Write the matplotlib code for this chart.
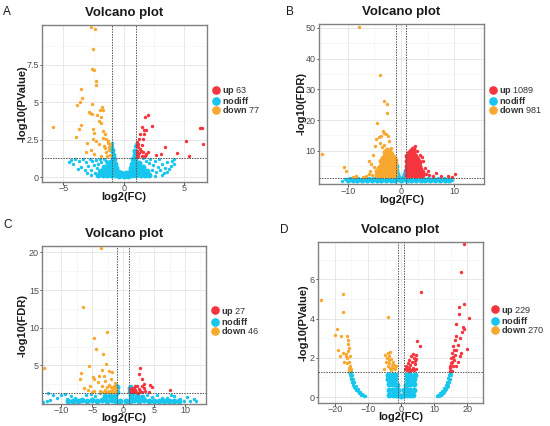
import matplotlib
matplotlib.use('Agg')
import matplotlib.pyplot as plt
from matplotlib.lines import Line2D

plt.rcParams['font.family'] = ['Liberation Sans', 'DejaVu Sans']
plt.rcParams['mathtext.fontset'] = 'custom'
plt.rcParams['mathtext.rm'] = 'Liberation Sans'
plt.rcParams['mathtext.bf'] = 'Liberation Sans:bold'

RED = '#F5343E'
BLUE = '#16C6EE'
ORANGE = '#F8A82E'

# ---------------- panel A ----------------
a_up = [(1.79, 4.05), (2.04, 4.16), (2.33, 3.44), (1.48, 3.33), (1.68, 3.15), (1.85, 3.15),
        (1.34, 2.89), (1.68, 2.89), (1.30, 2.55), (1.62, 2.55), (1.06, 2.33), (1.20, 2.22),
        (1.48, 2.17), (1.06, 2.05), (1.20, 1.99), (1.34, 1.88), (1.12, 1.77), (1.43, 1.72),
        (1.29, 1.59), (1.06, 1.55), (1.62, 1.66), (1.85, 1.54), (2.04, 1.66), (1.20, 1.42),
        (1.50, 1.38), (2.66, 1.48), (3.11, 1.52), (3.39, 2.03), (4.43, 1.59), (5.13, 2.44),
        (5.41, 1.43), (6.27, 3.31), (6.45, 3.31), (6.55, 2.21), (1.10, 1.35), (1.75, 1.40)]
a_down = [(-2.72, 10.05), (-2.38, 9.87), (-2.52, 8.55), (-2.66, 7.25), (-2.46, 7.14),
          (-2.27, 6.42), (-2.30, 6.17), (-3.50, 5.86), (-3.42, 5.30), (-3.84, 4.79),
          (-3.64, 5.01), (-2.63, 4.90), (-1.82, 4.68), (-1.74, 4.50), (-2.91, 4.34),
          (-2.80, 4.27), (-2.66, 4.23), (-2.24, 4.18), (-1.93, 4.50), (-1.88, 4.00),
          (-2.02, 3.78), (-1.85, 3.60), (-3.50, 3.45), (-5.85, 3.36), (-3.70, 3.22),
          (-2.58, 3.22), (-2.49, 2.95), (-1.74, 3.06), (-1.57, 2.89), (-3.98, 2.66),
          (-2.58, 2.55), (-2.30, 2.44), (-1.74, 2.62), (-1.46, 2.55), (-1.26, 2.44),
          (-3.00, 2.26), (-2.07, 2.21), (-1.60, 2.10), (-1.32, 2.26), (-1.18, 1.99),
          (-3.14, 1.66), (-2.72, 1.81), (-1.46, 1.66), (-1.23, 1.81), (-1.12, 1.50),
          (-1.88, 1.43), (-1.37, 1.43), (-1.51, 1.95), (-1.12, 2.21), (-2.44, 1.54)]
a_nodiff = [(-1.05, 0.3), (-1.08, 0.7), (-1.1, 1.1), (-1.35, 0.3), (-1.45, 1.05), (-1.65, 1.2),
            (-1.85, 1.0), (-2.0, 1.2), (-2.05, 0.4), (-2.15, 0.9), (-2.25, 0.6), (-2.3, 1.15),
            (-2.4, 0.25), (-2.5, 0.8), (-2.6, 1.05), (-2.7, 0.5), (-2.8, 1.2), (-2.95, 0.75),
            (-3.1, 1.0), (-3.2, 0.45), (-3.35, 1.2), (-3.5, 0.7), (-3.7, 1.05), (-3.8, 0.55),
            (-4.0, 1.2), (-4.2, 0.9), (-4.4, 1.15), (-4.5, 1.0), (-3.0, 0.3), (-2.7, 0.15),
            (-0.97, 2.1), (-0.99, 2.25), (0.97, 2.05), (0.99, 2.2), (-0.85, 1.75), (0.85, 1.8),
            (1.6, 1.25), (1.85, 1.1), (2.1, 0.95), (2.2, 1.2), (2.3, 0.45), (2.4, 0.8),
            (2.55, 1.05), (2.65, 0.35), (2.8, 0.7), (2.9, 1.2), (3.0, 0.5), (3.15, 0.9),
            (3.3, 0.3), (3.4, 0.6), (3.55, 1.0), (3.6, 0.35), (3.75, 0.55), (3.9, 0.75),
            (4.0, 1.1), (4.15, 0.9), (4.2, 1.2), (2.6, 0.1), (3.2, 0.15)]
a_nodiff_core = [(-2.1, 0.12), (-1.75, 0.12), (-1.4, 0.12), (-1.05, 0.12), (-0.7, 0.12),
                 (-0.35, 0.1), (0.0, 0.08), (0.35, 0.1), (0.7, 0.12), (1.05, 0.12), (1.4, 0.12),
                 (1.75, 0.12), (2.1, 0.12), (-1.9, 0.4), (-1.55, 0.4), (-1.2, 0.42), (-0.85, 0.4),
                 (-0.5, 0.36), (-0.2, 0.28), (0.2, 0.28), (0.5, 0.36), (0.85, 0.4), (1.2, 0.42),
                 (1.55, 0.4), (1.9, 0.4), (-1.6, 0.68), (-1.25, 0.7), (-0.9, 0.68), (-0.62, 0.62),
                 (0.62, 0.62), (0.9, 0.68), (1.25, 0.7), (1.6, 0.68), (-1.3, 0.96), (-0.95, 0.96),
                 (-0.72, 0.9), (0.72, 0.9), (0.95, 0.96), (1.3, 0.96), (-0.9, 1.22), (-0.78, 1.2),
                 (0.78, 1.2), (0.9, 1.22), (-0.92, 1.5), (0.9, 1.5), (-0.95, 1.78), (0.94, 1.72)]

# ---------------- panel B ----------------
b_up = [(2.7, 11.6), (2.2, 10.8), (3.1, 9.8), (3.6, 8.5), (4.1, 6.8), (4.5, 4.5), (4.7, 2.5),
        (6.6, 2.7), (8.8, 1.9), (10.1, 2.3), (5.3, 2.2), (6.0, 1.9), (5.0, 3.3), (1.6, 10.0),
        (3.9, 8.0), (7.5, 1.7), (9.5, 1.6)]
b_up_core = [(1.2, 2.0), (1.2, 3.6), (1.2, 5.2), (1.2, 6.8), (1.2, 8.2), (1.9, 2.0), (1.9, 3.6),
             (1.9, 5.2), (1.9, 6.8), (1.9, 8.4), (1.9, 9.8), (2.6, 2.0), (2.6, 3.6), (2.6, 5.2),
             (2.6, 6.8), (2.6, 8.4), (3.3, 2.0), (3.3, 3.6), (3.3, 5.0), (3.3, 6.2), (4.0, 2.0),
             (4.0, 3.2), (1.55, 2.8), (1.55, 4.4), (1.55, 6.0), (1.55, 7.6), (1.55, 9.2),
             (2.25, 2.8), (2.25, 4.4), (2.25, 6.0), (2.25, 7.6), (2.25, 9.2), (2.3, 10.6),
             (2.95, 2.8), (2.95, 4.4), (2.95, 6.0), (2.95, 7.4), (3.65, 2.6), (3.65, 4.0)]
b_down = [(-7.86, 50.4), (-3.90, 34.7), (-3.14, 26.1), (-2.70, 25.4), (-2.64, 22.4),
          (-4.53, 19.1), (-3.46, 16.5), (-3.14, 15.9), (-2.83, 15.4), (-2.52, 14.8),
          (-4.21, 14.5), (-4.72, 13.8), (-3.77, 14.8), (-2.20, 13.2), (-4.84, 11.6),
          (-3.58, 11.1), (-14.8, 8.9), (-6.10, 6.8), (-10.7, 4.6), (-10.25, 3.5), (-5.66, 5.7),
          (-5.03, 4.6), (-8.5, 1.9), (-5.97, 2.5), (-6.5, 1.8), (-5.5, 2.0), (-4.0, 12.5),
          (-3.2, 12.0), (-1.8, 11.0), (-5.2, 8.5), (-5.8, 3.3), (-7.2, 1.6), (-9.0, 1.5)]
b_down_core = [(-4.6, 2.0), (-4.6, 3.4), (-3.8, 2.0), (-3.8, 3.6), (-3.8, 5.2), (-3.8, 6.6),
               (-3.0, 2.0), (-3.0, 3.6), (-3.0, 5.2), (-3.0, 6.8), (-3.0, 8.4), (-3.0, 9.6),
               (-2.2, 2.0), (-2.2, 3.6), (-2.2, 5.2), (-2.2, 6.8), (-2.2, 8.4), (-2.2, 9.8),
               (-1.5, 2.0), (-1.5, 3.6), (-1.5, 5.2), (-1.5, 6.8), (-1.5, 8.0), (-4.2, 2.8),
               (-4.2, 4.4), (-3.4, 2.8), (-3.4, 4.4), (-3.4, 6.0), (-3.4, 7.6), (-2.6, 2.8),
               (-2.6, 4.4), (-2.6, 6.0), (-2.6, 7.6), (-2.6, 9.2), (-2.6, 10.4), (-1.85, 2.8),
               (-1.85, 4.4), (-1.85, 6.0), (-1.85, 7.6), (-1.85, 9.0), (-1.15, 2.6),
               (-1.15, 4.2), (-1.15, 5.8), (-1.15, 7.0)]
b_nodiff = [(-11.0, 0.3), (-10.6, 0.8), (-9.6, 1.1), (-8.8, 0.9), (-8.0, 1.2), (-7.0, 1.0),
            (-6.0, 1.2), (-5.0, 1.1), (-4.0, 1.2), (-0.95, 5.7), (0.9, 4.3), (5.0, 1.1),
            (6.0, 1.2), (7.0, 1.0), (8.0, 1.1), (9.0, 0.9), (9.6, 0.5)]
b_nodiff_core = [(-10.0, 0.4), (-9.1, 0.4), (-8.2, 0.4), (-7.3, 0.4), (-6.4, 0.4), (-5.5, 0.4),
                 (-4.6, 0.4), (-3.7, 0.4), (-2.8, 0.4), (-1.9, 0.4), (-1.2, 0.4), (1.2, 0.4),
                 (1.9, 0.4), (2.8, 0.4), (3.7, 0.4), (4.6, 0.4), (5.5, 0.4), (6.4, 0.4),
                 (7.3, 0.4), (8.2, 0.4), (9.1, 0.4), (-0.95, 5.0), (-0.9, 3.8), (-0.8, 2.6),
                 (-0.55, 1.5), (0.55, 1.5), (0.8, 2.4), (0.9, 3.4), (0.0, 0.4), (-0.45, 0.7),
                 (0.45, 0.7)]

# ---------------- panel C ----------------
c_up = [(2.76, 4.65), (2.49, 3.85), (3.03, 3.19), (3.30, 2.52), (3.03, 2.30), (4.38, 2.39),
        (4.65, 2.17), (2.22, 2.30), (1.78, 1.99), (1.57, 1.73), (1.95, 1.73), (2.49, 1.86),
        (3.30, 1.99), (7.51, 1.77), (1.24, 1.64), (2.76, 1.64), (1.35, 2.05), (1.10, 1.45),
        (3.60, 1.55), (1.60, 1.40), (2.10, 1.50), (4.10, 1.45), (2.40, 1.38), (1.15, 1.85),
        (3.00, 1.42), (1.90, 2.20), (1.45, 1.55)]
c_down = [(-3.62, 20.6), (-6.49, 12.79), (-2.70, 9.42), (-4.81, 8.63), (-4.43, 7.21),
          (-3.30, 6.46), (-12.8, 4.65), (-5.62, 4.87), (-2.81, 5.18), (-3.46, 4.38),
          (-2.38, 4.20), (-1.84, 4.16), (-6.81, 4.03), (-4.86, 3.50), (-4.0, 3.63),
          (-3.19, 3.63), (-6.97, 3.19), (-4.81, 3.19), (-4.11, 2.83), (-2.92, 2.96),
          (-2.0, 3.23), (-5.35, 2.30), (-6.32, 1.95), (-5.78, 1.77), (-3.46, 2.30),
          (-2.65, 2.17), (-2.27, 2.39), (-1.95, 2.08), (-1.57, 2.30), (-2.92, 1.77),
          (-2.38, 1.64), (-1.84, 1.77), (-1.46, 1.95), (-4.81, 1.64), (-3.19, 1.50),
          (-3.84, 1.64), (-1.24, 1.64), (-1.30, 1.40), (-2.10, 1.45), (-1.70, 1.50),
          (-2.60, 1.40), (-1.15, 2.00), (-3.60, 1.40), (-1.40, 2.60), (-5.10, 1.45),
          (-1.20, 1.80)]
c_nodiff = [(-12.4, 0.3), (-12.2, 1.3), (-11.8, 0.4), (-11.3, 1.0), (-10.8, 0.7), (-10.1, 1.0),
            (-9.4, 1.2), (-9.1, 0.5), (-8.5, 0.9), (-7.8, 0.6), (-6.0, 1.0), (-5.2, 1.2),
            (-4.6, 0.9), (-3.8, 1.3), (-2.0, 1.3), (-1.5, 2.0), (-1.2, 2.4), (1.3, 2.2),
            (1.6, 1.2), (2.4, 1.3), (3.8, 1.0), (4.6, 0.8), (5.4, 1.1), (6.2, 0.6),
            (7.1, 0.66), (7.8, 1.0), (8.2, 0.97), (8.8, 0.3), (9.2, 0.5), (9.8, 0.2),
            (10.3, 0.75), (10.8, 0.3), (11.4, 0.5), (11.7, 0.2), (-13.0, 0.1)]
c_nodiff_core = [(-9.0, 0.3), (-8.2, 0.25), (-7.4, 0.3), (-6.6, 0.35), (-5.8, 0.3),
                 (-5.0, 0.35), (-4.2, 0.3), (-3.4, 0.35), (-2.6, 0.3), (-1.8, 0.35),
                 (-1.1, 0.3), (1.1, 0.3), (1.8, 0.35), (2.6, 0.3), (3.4, 0.35), (4.2, 0.3),
                 (5.0, 0.25), (5.8, 0.3), (6.6, 0.25), (7.4, 0.2), (8.2, 0.25), (9.0, 0.2),
                 (-3.0, 0.9), (-2.2, 0.95), (-1.3, 0.9), (1.3, 0.9), (2.2, 0.95), (3.0, 0.85),
                 (-1.0, 1.5), (-0.95, 2.1), (1.05, 1.5), (1.1, 2.0), (-0.5, 0.3), (0.5, 0.3)]

# ---------------- panel D ----------------
d_up = [(19.0, 7.79), (18.0, 6.38), (19.0, 4.72), (17.5, 4.58), (17.4, 4.21), (20.4, 4.03),
        (16.7, 3.73), (18.7, 3.57), (19.0, 3.47), (18.4, 3.30), (16.7, 3.09), (17.7, 3.01),
        (16.2, 2.92), (17.2, 2.67), (19.9, 2.46), (15.7, 2.58), (15.9, 2.41), (16.5, 2.41),
        (15.5, 2.24), (16.2, 2.15), (18.2, 2.24), (17.7, 2.07), (15.2, 1.98), (15.9, 1.90),
        (17.2, 1.81), (15.0, 1.73), (15.7, 1.59), (14.8, 1.47), (16.5, 1.56), (14.6, 1.35),
        (15.4, 1.33), (15.3, 1.80), (15.6, 2.05), (14.9, 1.60),
        (6.06, 5.35), (4.75, 2.87), (5.76, 2.58), (3.54, 2.21), (4.34, 2.15), (3.03, 2.07),
        (3.84, 1.98), (4.55, 1.93), (2.32, 1.90), (3.33, 1.81), (2.02, 1.73), (2.73, 1.64),
        (4.04, 1.69), (1.52, 1.56), (2.32, 1.47), (3.54, 1.47), (4.55, 1.42), (1.72, 1.38),
        (3.03, 1.38), (1.31, 1.42), (4.04, 1.86), (2.60, 1.35), (3.90, 1.40), (1.90, 1.55)]
d_down = [(-24.3, 4.97), (-17.7, 5.26), (-17.7, 4.32), (-19.5, 3.47), (-19.9, 3.18),
          (-18.2, 3.13), (-19.2, 2.41), (-16.2, 3.09), (-16.0, 2.92), (-15.9, 2.72),
          (-15.7, 2.50), (-16.5, 2.21), (-16.7, 2.07), (-17.7, 2.24), (-18.5, 2.10),
          (-16.2, 1.98), (-15.7, 1.81), (-15.4, 1.59), (-16.2, 1.73), (-17.2, 1.81),
          (-15.2, 1.42), (-15.8, 1.47), (-16.0, 2.35), (-15.5, 2.10), (-15.6, 1.35),
          (-4.04, 4.07), (-3.33, 2.32), (-4.04, 2.24), (-4.75, 2.15), (-4.34, 1.98),
          (-3.54, 2.07), (-3.03, 1.95), (-2.53, 1.81), (-4.55, 1.81), (-3.74, 1.73),
          (-2.73, 1.64), (-2.02, 1.64), (-4.04, 1.56), (-3.33, 1.50), (-2.32, 1.47),
          (-1.72, 1.42), (-3.03, 1.38), (-5.05, 1.42), (-1.52, 1.56), (-3.74, 1.90)]
d_nodiff = [(-15.66, 1.30), (-15.45, 1.13), (-15.15, 0.96), (-14.85, 0.79), (-14.44, 0.62),
            (-13.84, 0.44), (-13.13, 0.31), (-12.32, 0.19), (-11.41, 0.09), (-10.8, 0.03),
            (-15.1, 1.28), (-14.9, 1.10), (-14.6, 0.93), (-14.2, 0.76), (-13.7, 0.58),
            (-13.1, 0.42), (-12.5, 0.28), (-11.8, 0.15), (-11.1, 0.05), (-15.35, 1.20),
            (-15.0, 0.90), (-14.6, 0.70), (-14.1, 0.52), (-13.5, 0.38), (-12.8, 0.22),
            (-12.0, 0.10),
            (14.65, 1.30), (14.44, 1.13), (14.14, 0.96), (13.84, 0.79), (13.43, 0.62),
            (12.93, 0.44), (12.32, 0.31), (11.62, 0.19), (11.11, 0.09), (10.7, 0.03),
            (15.2, 1.28), (15.0, 1.10), (14.7, 0.93), (14.4, 0.76), (14.0, 0.58), (13.5, 0.42),
            (12.9, 0.28), (12.2, 0.15), (11.5, 0.06), (14.9, 1.20), (14.5, 0.90), (14.1, 0.70),
            (13.7, 0.52), (13.2, 0.38), (12.6, 0.22), (11.9, 0.10)]
d_nodiff_core = [(-3.6, 0.12), (-2.6, 0.1), (-1.7, 0.1), (1.7, 0.1), (2.6, 0.1), (3.6, 0.12),
                 (-3.7, 0.38), (-2.6, 0.38), (-1.7, 0.38), (1.7, 0.38), (2.6, 0.38), (3.8, 0.38),
                 (-3.8, 0.64), (-2.7, 0.64), (-1.8, 0.64), (1.8, 0.64), (2.7, 0.64), (3.9, 0.64),
                 (-3.9, 0.9), (-2.8, 0.9), (-1.8, 0.9), (1.8, 0.9), (2.8, 0.9), (4.0, 0.9),
                 (-3.9, 1.14), (-2.8, 1.14), (-1.8, 1.14), (1.8, 1.14), (2.8, 1.14), (4.1, 1.14),
                 (-0.9, 0.1), (0.0, 0.05), (0.9, 0.1), (-1.0, 0.35), (1.0, 0.35), (-1.35, 0.6),
                 (1.35, 0.6)]

panels = [
    dict(letter='A', rect=[0.0755, 0.5735, 0.300, 0.3678], ylabel='-log10(PValue)',
         xlim=(-6.8, 6.85), ylim=(-0.31, 10.17), xticks=[-5, 0, 5], yticks=[0, 2.5, 5, 7.5],
         ytl=['0', '2.5', '5', '7.5'], xminor=[-2.5, 2.5], yminor=[1.25, 3.75, 6.25, 8.75],
         up=a_up, up_core=[], down=a_down, down_core=[], nd=a_nodiff, nd_core=a_nodiff_core,
         counts=(63, 77), leg=(0.3864, 0.7650), letter_xy=(3, 15),
         xl=-0.068, yl=-0.085),
    dict(letter='B', rect=[0.5791, 0.5681, 0.3009, 0.3756], ylabel='-log10(FDR)',
         xlim=(-15.5, 15.6), ylim=(-0.8, 51.3), xticks=[-10, 0, 10], yticks=[10, 20, 30, 40, 50],
         ytl=None, xminor=[-15, -5, 5, 15], yminor=[5, 15, 25, 35, 45],
         up=b_up, up_core=b_up_core, down=b_down, down_core=b_down_core, nd=b_nodiff,
         nd_core=b_nodiff_core, counts=(1089, 981), leg=(0.8905, 0.7650), letter_xy=(286, 15),
         xl=-0.069, yl=-0.073),
    dict(letter='C', rect=[0.0758, 0.0523, 0.2982, 0.3693], ylabel='-log10(FDR)',
         xlim=(-13.2, 13.35), ylim=(-0.1, 20.8), xticks=[-10, -5, 0, 5, 10], yticks=[5, 10, 15, 20],
         ytl=None, xminor=[-12.5, -7.5, -2.5, 2.5, 7.5, 12.5], yminor=[2.5, 7.5, 12.5, 17.5],
         up=c_up, up_core=[], down=c_down, down_core=[], nd=c_nodiff, nd_core=c_nodiff_core,
         counts=(27, 46), leg=(0.3850, 0.2465), letter_xy=(3, 228),
         xl=-0.0575, yl=-0.087),
    dict(letter='D', rect=[0.5776, 0.0547, 0.3005, 0.3779], ylabel='-log10(PValue)',
         xlim=(-25.2, 24.7), ylim=(-0.29, 7.92), xticks=[-20, -10, 0, 10, 20], yticks=[0, 2, 4, 6],
         ytl=None, xminor=[-25, -15, -5, 5, 15], yminor=[1, 3, 5, 7],
         up=d_up, up_core=[], down=d_down, down_core=[], nd=d_nodiff, nd_core=d_nodiff_core,
         counts=(229, 270), leg=(0.8940, 0.2488), letter_xy=(280, 233),
         xl=-0.0565, yl=-0.056),
]

fig = plt.figure(figsize=(5.5, 4.26), dpi=100)

def pts(ax, data, color, size, z):
    if data:
        xs, ys = zip(*data)
        ax.scatter(xs, ys, s=size, c=color, linewidths=0, zorder=z)

for p in panels:
    ax = fig.add_axes(p['rect'])
    ax.set_xlim(p['xlim'])
    ax.set_ylim(p['ylim'])
    ax.set_xticks(p['xticks'])
    ax.set_yticks(p['yticks'])
    if p['ytl']:
        ax.set_yticklabels(p['ytl'])
    ax.set_xticks(p['xminor'], minor=True)
    ax.set_yticks(p['yminor'], minor=True)
    ax.set_axisbelow(True)
    ax.grid(which='major', color='#E4E4E4', lw=0.6)
    ax.grid(which='minor', color='#F1F1F1', lw=0.4)
    ax.tick_params(which='major', length=1.8, width=0.6, color='#333333', labelsize=6.5,
                   labelcolor='#4D4D4D', pad=0.2)
    ax.tick_params(which='minor', length=0)
    for s in ax.spines.values():
        s.set_color('#808080')
        s.set_linewidth(1.0)

    pts(ax, p['nd_core'], BLUE, 18, 2)
    pts(ax, p['nd'], BLUE, 6, 2)
    pts(ax, p['down_core'], ORANGE, 18, 3)
    pts(ax, p['down'], ORANGE, 6, 3)
    pts(ax, p['up_core'], RED, 18, 3)
    pts(ax, p['up'], RED, 6, 3)

    for xv in (-1, 1):
        ax.axvline(xv, color='#555555', lw=0.7, ls=(0, (1.5, 1.2)), zorder=4)
    ax.axhline(1.3, color='#555555', lw=0.7, ls=(0, (1.5, 1.2)), zorder=4)

    ax.set_title('Volcano plot', fontsize=9.5, fontweight='bold', pad=6.5, color='#1A1A1A')
    ax.set_xlabel('log2(FC)', fontsize=8, fontweight='bold', color='#1A1A1A')
    ax.set_ylabel(p['ylabel'], fontsize=8, fontweight='bold', color='#1A1A1A')
    ax.xaxis.set_label_coords(0.5, p['xl'])
    ax.yaxis.set_label_coords(p['yl'], 0.5)

    up_n, down_n = p['counts']
    handles = [Line2D([], [], marker='o', ls='', color=c, markersize=5.2) for c in (RED, BLUE, ORANGE)]
    labels = [r'$\mathbf{up}$ %d' % up_n, r'$\mathbf{nodiff}$', r'$\mathbf{down}$ %d' % down_n]
    ax.legend(handles, labels, loc='center left', bbox_to_anchor=p['leg'],
              bbox_transform=fig.transFigure, frameon=False, fontsize=6.6,
              handlelength=0.8, handletextpad=0.2, labelspacing=-0.18, borderpad=0,
              borderaxespad=0, labelcolor='#333333')

    lx, ly = p['letter_xy']
    fig.text(lx / 550, 1 - ly / 426, p['letter'], fontsize=8.5, color='#1A1A1A')

fig.savefig('out.png', dpi=100)
